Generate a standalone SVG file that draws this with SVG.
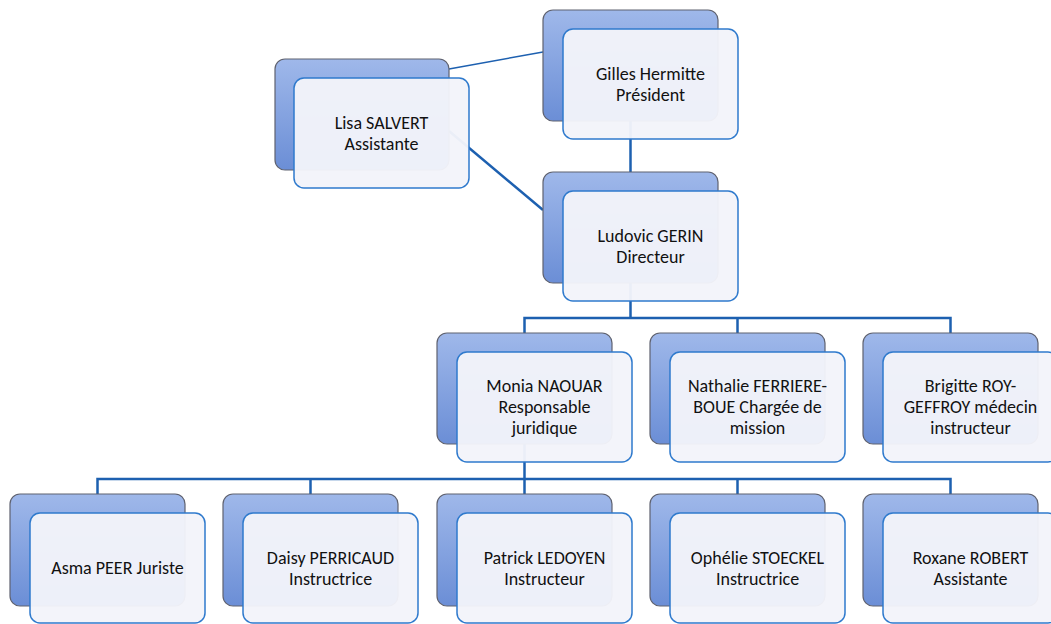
<svg xmlns="http://www.w3.org/2000/svg" width="1051" height="624" viewBox="0 0 1051 624">
<defs>
<linearGradient id="bg" x1="0" y1="0" x2="0" y2="1">
<stop offset="0" stop-color="#9FB8EA"/>
<stop offset="1" stop-color="#6B8ED6"/>
</linearGradient>
<style>
.back{fill:url(#bg);stroke:#5F6270;stroke-width:1.2}
.front{fill:#F2F4FA;fill-opacity:0.96;stroke:#2F7ACD;stroke-width:1.5}
.t{font-family:Carlito,"Liberation Sans",Arial,sans-serif;font-size:18px;fill:#111;text-anchor:middle}
.c{fill:none;stroke:#1D60B0;stroke-width:2.5}
.thin{fill:none;stroke:#1D60B0;stroke-width:1.5}
</style>
</defs>
<rect width="1051" height="624" fill="#ffffff"/>
<g id="connectors">
<line class="thin" x1="449" y1="69" x2="543" y2="52"/>
<line class="c" x1="449" y1="131" x2="543" y2="210"/>
<line class="c" x1="630.5" y1="121" x2="630.5" y2="172"/>
<polyline class="c" points="630.5,283 630.5,318"/>
<polyline class="c" points="524.5,333 524.5,318 950.5,318 950.5,333"/>
<line class="c" x1="737.5" y1="318" x2="737.5" y2="333"/>
<polyline class="c" points="524.5,444 524.5,494"/>
<polyline class="c" points="97.5,494 97.5,479 950.5,479 950.5,494"/>
<line class="c" x1="310.5" y1="479" x2="310.5" y2="494"/>
<line class="c" x1="737.5" y1="479" x2="737.5" y2="494"/>
</g>
<g id="gilles">
<rect class="back" x="543" y="10" width="175" height="111" rx="10"/>
<rect class="front" x="563" y="29" width="175" height="110" rx="10"/>
<text class="t" x="650.5" y="80">Gilles Hermitte</text>
<text class="t" x="650.5" y="101">Président</text>
</g>
<g id="lisa">
<rect class="back" x="275" y="59" width="174" height="111" rx="10"/>
<rect class="front" x="294" y="78" width="175" height="110" rx="10"/>
<text class="t" x="381.5" y="129">Lisa SALVERT</text>
<text class="t" x="381.5" y="150">Assistante</text>
</g>
<g id="ludovic">
<rect class="back" x="543" y="172" width="175" height="111" rx="10"/>
<rect class="front" x="563" y="191" width="175" height="110" rx="10"/>
<text class="t" x="650.5" y="242">Ludovic GERIN</text>
<text class="t" x="650.5" y="263">Directeur</text>
</g>
<g id="monia">
<rect class="back" x="437" y="333" width="175" height="111" rx="10"/>
<rect class="front" x="457" y="352" width="175" height="110" rx="10"/>
<text class="t" x="544.5" y="392">Monia NAOUAR</text>
<text class="t" x="544.5" y="413">Responsable</text>
<text class="t" x="544.5" y="434">juridique</text>
</g>
<g id="nathalie">
<rect class="back" x="650" y="333" width="175" height="111" rx="10"/>
<rect class="front" x="670" y="352" width="175" height="110" rx="10"/>
<text class="t" x="757.5" y="392">Nathalie FERRIERE-</text>
<text class="t" x="757.5" y="413">BOUE Chargée de</text>
<text class="t" x="757.5" y="434">mission</text>
</g>
<g id="brigitte">
<rect class="back" x="863" y="333" width="175" height="111" rx="10"/>
<rect class="front" x="883" y="352" width="175" height="110" rx="10"/>
<text class="t" x="970.5" y="392">Brigitte ROY-</text>
<text class="t" x="970.5" y="413">GEFFROY médecin</text>
<text class="t" x="970.5" y="434">instructeur</text>
</g>
<g id="asma">
<rect class="back" x="10" y="494" width="175" height="112" rx="10"/>
<rect class="front" x="30" y="513" width="175" height="110" rx="10"/>
<text class="t" x="117.5" y="574">Asma PEER Juriste</text>
</g>
<g id="daisy">
<rect class="back" x="223" y="494" width="175" height="112" rx="10"/>
<rect class="front" x="243" y="513" width="175" height="110" rx="10"/>
<text class="t" x="330.5" y="564">Daisy PERRICAUD</text>
<text class="t" x="330.5" y="585">Instructrice</text>
</g>
<g id="patrick">
<rect class="back" x="437" y="494" width="175" height="112" rx="10"/>
<rect class="front" x="457" y="513" width="175" height="110" rx="10"/>
<text class="t" x="544.5" y="564">Patrick LEDOYEN</text>
<text class="t" x="544.5" y="585">Instructeur</text>
</g>
<g id="ophelie">
<rect class="back" x="650" y="494" width="175" height="112" rx="10"/>
<rect class="front" x="670" y="513" width="175" height="110" rx="10"/>
<text class="t" x="757.5" y="564">Ophélie STOECKEL</text>
<text class="t" x="757.5" y="585">Instructrice</text>
</g>
<g id="roxane">
<rect class="back" x="863" y="494" width="175" height="112" rx="10"/>
<rect class="front" x="883" y="513" width="175" height="110" rx="10"/>
<text class="t" x="970.5" y="564">Roxane ROBERT</text>
<text class="t" x="970.5" y="585">Assistante</text>
</g>
</svg>
